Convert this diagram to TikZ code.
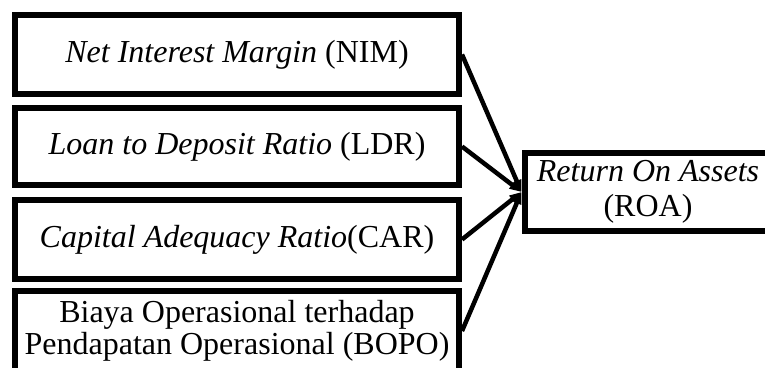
\documentclass[tikz,border=0pt]{standalone}
\usepackage{fontspec}
\setmainfont{Liberation Serif}
\usetikzlibrary{arrows.meta}
\begin{document}
\begin{tikzpicture}[x=1pt,y=-1pt,
  varbox/.style={draw=black,line width=6pt,fill=white,inner sep=0pt,
    minimum width=444pt,align=center,font=\fontsize{32}{32}\selectfont},
  link/.style={line width=4.5pt,-{Triangle[length=12pt,width=9pt]}}]
\useasboundingbox (0,0) rectangle (765,367);
\clip (0,0) rectangle (765,367);
\node[varbox,minimum height=79pt] (nim) at (237,54.5) {\textit{Net Interest Margin} (NIM)};
\node[varbox,minimum height=77pt] (ldr) at (237,146.5) {\textit{Loan to Deposit Ratio} (LDR)};
\node[varbox,minimum height=79pt] (car) at (237,239.5) {\textit{Capital Adequacy Ratio}(CAR)};
\node[varbox,minimum height=80pt] (bopo) at (237,331) {Biaya Operasional terhadap\\Pendapatan Operasional (BOPO)};
\node[varbox,minimum width=247pt,minimum height=78pt,font=\fontsize{32}{35}\selectfont] (roa) at (648,192) {\textit{Return On Assets}\\(ROA)};
\foreach \src in {nim,ldr,car,bopo}
  \draw[link] (\src.east) -- (roa.west);
\end{tikzpicture}
\end{document}
